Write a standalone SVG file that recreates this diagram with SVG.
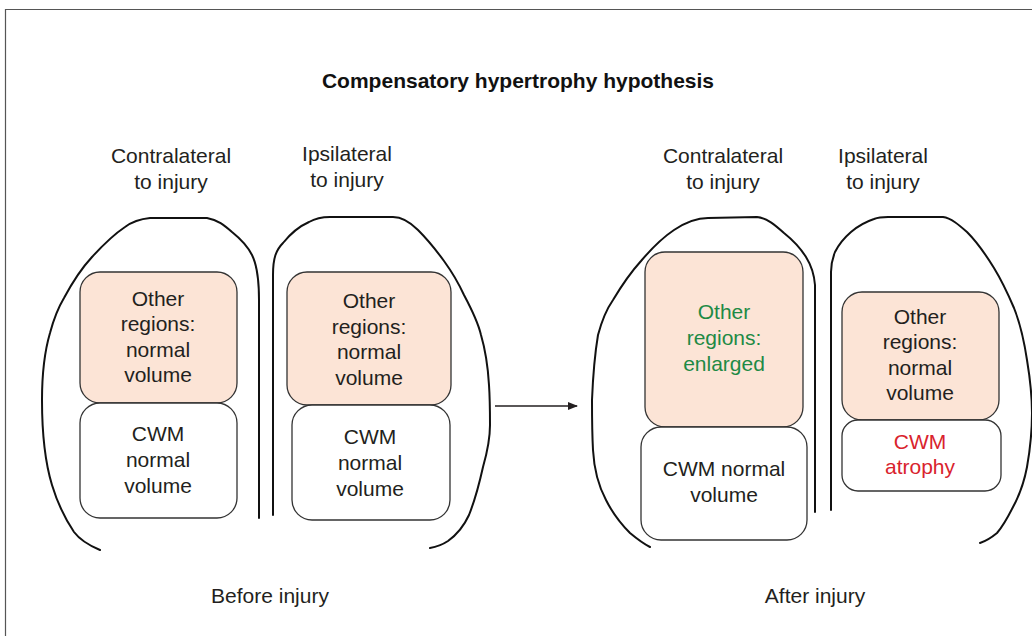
<svg xmlns="http://www.w3.org/2000/svg" width="1032" height="636" viewBox="0 0 1032 636">
<defs>
<marker id="arr" markerWidth="10" markerHeight="8" refX="9" refY="4" orient="auto" markerUnits="userSpaceOnUse">
<path d="M0,0 L10,4 L0,8 Z" fill="#231f20"/>
</marker>
<style>
.hemi{fill:none;stroke:#111;stroke-width:2;stroke-linejoin:round;stroke-linecap:round}
.peach{fill:#fce4d6;stroke:#333;stroke-width:1.3}
.white{fill:#fff;stroke:#333;stroke-width:1.3}
.t{font-family:"Liberation Sans",Arial,sans-serif;font-size:21px;fill:#231f20;text-anchor:middle}
.g{fill:#1e8a45}
.r{fill:#d9232d}
.title{font-family:"Liberation Sans",Arial,sans-serif;font-size:21px;font-weight:bold;fill:#111;text-anchor:middle}
</style>
</defs>
<rect width="1032" height="636" fill="#fff"/>
<path d="M5.5,636 L5.5,9.5 L1032,9.5" fill="none" stroke="#555" stroke-width="1.2"/>
<text class="title" x="518" y="88">Compensatory hypertrophy hypothesis</text>

<g id="labels">
<text class="t" x="171" y="163">Contralateral</text>
<text class="t" x="171" y="189">to injury</text>
<text class="t" x="347" y="161">Ipsilateral</text>
<text class="t" x="347" y="187">to injury</text>
<text class="t" x="723" y="163">Contralateral</text>
<text class="t" x="723" y="189">to injury</text>
<text class="t" x="883" y="163">Ipsilateral</text>
<text class="t" x="883" y="189">to injury</text>
<text class="t" x="270" y="603">Before injury</text>
<text class="t" x="815" y="603">After injury</text>
</g>

<g id="hemi-before-contra">
<path class="hemi" d="M100,550 C88,545 80,540 74,532 C66,520 58,505 52,485 C45,462 42,430 42,400 C42,370 45,350 50,333 C54,318 58,308 64,298 C72,283 80,270 92,257 C103,245 113,235 125,227 C133,221 140,219 150,218 L207,218 C218,220 224,225 232,232 C242,240 248,247 252,255 C257,265 259,280 259,300 L259,518"/>
</g>
<g id="hemi-before-ipsi">
<path class="hemi" d="M273,515 L273,275 C273,258 276,250 283,243 C291,233 300,226 309,222 C316,218 322,217 330,217 L393,217 C402,217 410,222 418,230 C428,240 436,250 444,261 C452,272 458,282 464,295 C472,310 478,322 481,335 C486,352 488,368 489,385 C490,400 490,412 490,425 C490,440 487,453 483,467 C479,485 475,500 469,515 C463,528 455,536 448,541 C442,545 436,547 430,548"/>
</g>
<g id="hemi-after-contra">
<path class="hemi" d="M650,547 C642,543 636,538 630,533 C620,523 612,512 606,500 C598,485 594,468 593,450 C592,432 592,415 592,400 C593,375 595,353 598,335 C602,320 606,310 613,300 C622,285 631,272 641,261 C652,248 662,238 674,230 C686,222 696,218 708,218 L757,217 C767,218 775,225 784,233 C794,241 801,249 806,257 C811,265 814,272 815,285 L815,512"/>
</g>
<g id="hemi-after-ipsi">
<path class="hemi" d="M831,510 L831,272 C831,262 833,257 835,252 C839,244 844,238 851,232 C858,226 865,222 874,219 C879,217 883,217 888,217 L943,217 C951,218 959,225 967,232 C977,242 986,255 994,268 C1002,281 1008,294 1014,308 C1020,323 1024,340 1027,360 C1030,378 1032,395 1032,413 C1032,432 1030,450 1027,467 C1024,483 1019,496 1013,507 C1008,517 1003,526 997,533 C991,538 986,541 980,543"/>
</g>

<g id="box-before-contra-other">
<rect class="peach" x="80" y="272" width="157" height="131" rx="20"/>
<text class="t" x="158" y="306">Other</text>
<text class="t" x="158" y="331">regions:</text>
<text class="t" x="158" y="357">normal</text>
<text class="t" x="158" y="382">volume</text>
</g>
<g id="box-before-contra-cwm">
<rect class="white" x="80" y="403" width="157" height="115" rx="20"/>
<text class="t" x="158" y="441">CWM</text>
<text class="t" x="158" y="467">normal</text>
<text class="t" x="158" y="493">volume</text>
</g>
<g id="box-before-ipsi-other">
<rect class="peach" x="287" y="272" width="164" height="133" rx="20"/>
<text class="t" x="369" y="308">Other</text>
<text class="t" x="369" y="334">regions:</text>
<text class="t" x="369" y="359">normal</text>
<text class="t" x="369" y="385">volume</text>
</g>
<g id="box-before-ipsi-cwm">
<rect class="white" x="292" y="405" width="158" height="115" rx="20"/>
<text class="t" x="370" y="444">CWM</text>
<text class="t" x="370" y="470">normal</text>
<text class="t" x="370" y="496">volume</text>
</g>
<g id="box-after-contra-other">
<rect class="peach" x="645" y="252" width="158" height="175" rx="20"/>
<text class="t g" x="724" y="319">Other</text>
<text class="t g" x="724" y="345">regions:</text>
<text class="t g" x="724" y="371">enlarged</text>
</g>
<g id="box-after-contra-cwm">
<rect class="white" x="641" y="427" width="166" height="113" rx="20"/>
<text class="t" x="724" y="476">CWM normal</text>
<text class="t" x="724" y="502">volume</text>
</g>
<g id="box-after-ipsi-other">
<rect class="peach" x="842" y="292" width="157" height="128" rx="20"/>
<text class="t" x="920" y="324">Other</text>
<text class="t" x="920" y="349">regions:</text>
<text class="t" x="920" y="375">normal</text>
<text class="t" x="920" y="400">volume</text>
</g>
<g id="box-after-ipsi-cwm">
<rect class="white" x="842" y="420" width="159" height="71" rx="16"/>
<text class="t r" x="920" y="449">CWM</text>
<text class="t r" x="920" y="474">atrophy</text>
</g>

<g id="connectors">
<line x1="495" y1="406" x2="577" y2="406" stroke="#231f20" stroke-width="1.3" marker-end="url(#arr)"/>
</g>
</svg>
